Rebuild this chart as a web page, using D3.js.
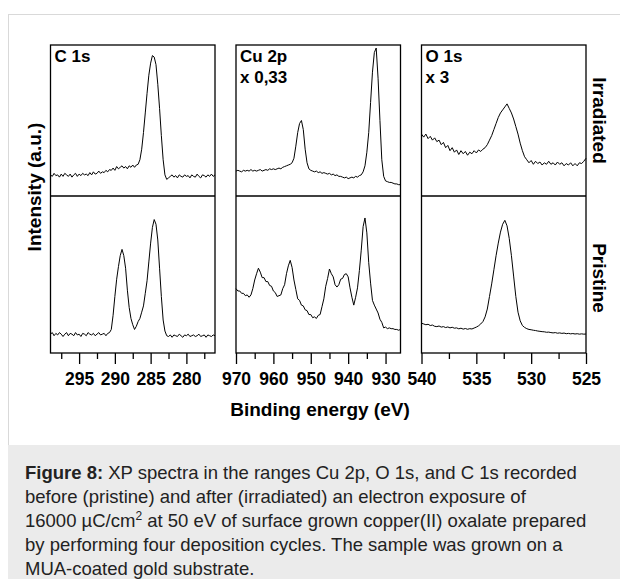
<!DOCTYPE html>
<html>
<head>
<meta charset="utf-8">
<script src="https://cdn.jsdelivr.net/npm/d3@7"></script>
<style>
  body { margin: 0; background: #fff; }
  svg { display: block; }
</style>
</head>
<body>
<svg id="chart" width="620" height="579"></svg>
<script>
// ---------------------------//
//       DATA                 //
// ---------------------------//

// C 1s, 299 -> 276 eV every 0.25 eV
var c1sStart = 299, c1sStep = 0.25
var c1sIrradiated = [14,13,15,13.5,14,12.5,14.5,13,15,14,13,14.5,12.5,14,15,13,14.5,13.5,15,14,
  14.5,13.5,15.5,14,16,14.5,15,16.5,15,16,15.5,17,16,17.5,
  17,18.5,17,19.5,18,19,20,18.5,19.5,18,20,19,20.5,19,20.5,21,
  24,31,42,55,68,80,88,93,92,87,74,58,40,24,14,11,12,
  13,14,12.5,13.5,12,14,13,12.5,14,13,13.5,12,14,13,12.5,14.5,13,12,14,13.5,12.5,14,13,14.5,13,14]
var c1sPristine = [12,13,11,12.5,11.5,13,12,10.5,12,13,11,12.5,12,11,13,11.5,12,10.5,12.5,12,11,13,12,11.5,12.5,11,12,13,11.5,12,12.5,11,12.5,13,
  15,24,36,47,55,62,66,62,54,40,29,22,18,15,17,20,22,26,30,38,46,58,70,80,85,82,72,54,36,21,14,
  11,10.5,11.5,10,11.5,11,10.5,12,11,10,11.5,11,12,10.5,11,11.5,10.5,11,12,10.5,11,11.5,10,11.5,11,10.5,11.5,11]

// Cu 2p, 970 -> 926 eV every 0.5 eV
var cuStart = 970, cuStep = 0.5
var cuIrradiated = [16.5,17,16.5,16,17,16.5,17,16.5,17.5,16.5,17,16.5,17,17.5,16.5,17,17.5,17,18,17.5,18,17.5,18,18.5,18,
  19,19.5,20,20.5,21,22,25,33,42,48,50,44,31,22,18,17,
  16.5,16,16.5,15.5,16,15,15.5,15,14.5,15,14,14.5,13.5,14,13,13,12.5,12,12.5,11.5,12,12.5,12,13,12.5,13.5,
  14,16,20,29,42,62,82,95,98,78,50,24,13,10,
  9.5,9,9,8.5,8,8,7.5,7.5]
var cuPristine = [41,39.5,39.5,38,38,36.5,37,35.5,37,41,
  46.5,50.5,54,51.5,48,48,45.5,45.5,43,42.5,
  39.5,38.5,36,36.5,37,41,43.5,50.5,55.5,59,
  54.5,46.5,40.5,34.5,33.5,30.5,30,27.5,27,24.5,
  24.5,22.5,23,22,24,24.5,29.5,34.5,42.5,47.5,
  53.5,50.5,48.5,43.5,42,43.5,47,47.5,50,50.5,
  48.5,41.5,35.5,30.5,35.5,41.5,52.5,65.5,80.5,86,
  76.5,57.5,44.5,33.5,30.5,28,25.5,21.5,19.5,16,
  16.5,15.5,16,15.5,15.5,15,15,14.5,15]

// O 1s, 540 -> 525 eV every 0.2 eV
var o1sStart = 540, o1sStep = 0.2
var o1sIrradiated = [41,39,41,38,39.5,37,38.5,36,37,34,35.5,32,33.5,30,32,29,30.5,27.5,30,28,
  29.5,27,29,28,30,28.5,30.5,29.5,31,32,34,37,40,44,48,52,55,57,59,61,
  58,55,51,46,41,35,30,26,24,22,23.5,21,23,21.5,22.5,20.5,22,21,23,21,
  22,20.5,22.5,21,22,20,21.5,20.5,22,20,21.5,20,22,21.5,23,25]
var o1sPristine = [19,18.5,18,18.3,17.5,17.8,17,16.8,17.2,16.5,16.8,16.2,16.6,16,16.4,15.8,16,15.4,15.8,15.2,
  15.6,15.1,15.5,15.3,15.9,16.5,17.3,18.5,20,23,28,36,44,53,62,70,77,82,84.5,81,
  73,62,49,36,26,20.5,17.5,16.3,15.5,15,14.8,14.5,14.3,14,13.8,13.6,13.5,13.2,13.3,13,
  12.8,13,12.6,12.8,12.5,12.7,12.3,12.5,12.2,12.4,12.1,12.3,12,12.2,12,12.1]

// ticks
var c1sMajor = [295, 290, 285, 280], c1sMinor = [297.5, 292.5, 287.5, 282.5, 277.5]
var cuMajor = [970, 960, 950, 940, 930], cuMinor = [965, 955, 945, 935]
var o1sMajor = [540, 535, 530, 525], o1sMinor = [537.5, 532.5, 527.5]

var panelTitles = [["C 1s"], ["Cu 2p", "x 0,33"], ["O 1s", "x 3"]]
var rowLabels = ["Irradiated", "Pristine"]

// ---------------------------//
//       LAYOUT               //
// ---------------------------//
var plotTop = 45, plotMid = 196, plotBottom = 353
var panelW = 164.5, firstLeft = 50.5, gap = 185.5
var font = "'Liberation Sans', Arial, sans-serif"

var panels = [
  {domain: [299, 276], start: c1sStart, step: c1sStep, irr: c1sIrradiated, pri: c1sPristine, major: c1sMajor, minor: c1sMinor},
  {domain: [970, 926], start: cuStart, step: cuStep, irr: cuIrradiated, pri: cuPristine, major: cuMajor, minor: cuMinor},
  {domain: [540, 525], start: o1sStart, step: o1sStep, irr: o1sIrradiated, pri: o1sPristine, major: o1sMajor, minor: o1sMinor}
]

var svg = d3.select("#chart")

// outer frame + caption box
svg.append("rect")
  .attr("x", 8.5).attr("y", 14.5)
  .attr("width", 640).attr("height", 600)
  .attr("fill", "#fff").attr("stroke", "#d9d9d9")
svg.append("rect")
  .attr("x", 8).attr("y", 445)
  .attr("width", 612).attr("height", 134)
  .attr("fill", "#ebebeb")

var yTop = d3.scaleLinear().domain([0, 100]).range([plotMid, plotTop])
var yBot = d3.scaleLinear().domain([0, 100]).range([plotBottom, plotMid])

panels.forEach(function(p, k){
  var left = firstLeft + k * gap
  var x = d3.scaleLinear().domain(p.domain).range([left, left + panelW])

  var toPoints = function(vals){
    return vals.map(function(v, i){ return [p.start - i * p.step, v] })
  }

  var lineTop = d3.line().x(function(d){ return x(d[0]) }).y(function(d){ return yTop(d[1]) })
  var lineBot = d3.line().x(function(d){ return x(d[0]) }).y(function(d){ return yBot(d[1]) })

  svg.append("path")
    .datum(toPoints(p.irr))
    .attr("d", lineTop)
    .attr("fill", "none").attr("stroke", "#000").attr("stroke-width", 1)
    .attr("stroke-linejoin", "round")

  svg.append("path")
    .datum(toPoints(p.pri))
    .attr("d", lineBot)
    .attr("fill", "none").attr("stroke", "#000").attr("stroke-width", 1)
    .attr("stroke-linejoin", "round")

  // box + divider
  svg.append("rect")
    .attr("x", left).attr("y", plotTop)
    .attr("width", panelW).attr("height", plotBottom - plotTop)
    .attr("fill", "none").attr("stroke", "#000").attr("stroke-width", 1.3)
  svg.append("line")
    .attr("x1", left).attr("x2", left + panelW)
    .attr("y1", plotMid).attr("y2", plotMid)
    .attr("stroke", "#000").attr("stroke-width", 1.3)

  // minor ticks
  var minorAxis = svg.append("g")
    .attr("transform", "translate(0," + plotBottom + ")")
    .call(d3.axisBottom(x).tickValues(p.minor).tickSize(6).tickFormat(""))
  minorAxis.select(".domain").remove()
  minorAxis.selectAll("line").attr("stroke-width", 1.3)

  // major ticks + labels
  var majorAxis = svg.append("g")
    .attr("transform", "translate(0," + plotBottom + ")")
    .call(d3.axisBottom(x).tickValues(p.major).tickSize(11).tickPadding(9).tickFormat(d3.format("d")))
  majorAxis.select(".domain").remove()
  majorAxis.selectAll("line").attr("stroke-width", 1.3)
  majorAxis.selectAll("text")
    .attr("font-family", font).attr("font-size", 17.5).attr("font-weight", "bold").attr("fill", "#000")

  // panel title
  svg.append("text")
    .attr("font-family", font).attr("font-size", 17).attr("font-weight", "bold")
    .selectAll("tspan")
    .data(panelTitles[k])
    .enter()
    .append("tspan")
      .attr("x", left + 4)
      .attr("y", function(d, i){ return 61.5 + i * 21.5 })
      .text(function(d){ return d })
})

// axis titles
svg.append("text")
  .attr("transform", "translate(40.5," + 187 + ") rotate(-90)")
  .attr("text-anchor", "middle")
  .attr("font-family", font).attr("font-size", 19).attr("font-weight", "bold")
  .text("Intensity (a.u.)")

svg.append("text")
  .attr("x", 320).attr("y", 416)
  .attr("text-anchor", "middle")
  .attr("font-family", font).attr("font-size", 19).attr("font-weight", "bold")
  .text("Binding energy (eV)")

svg.selectAll("rowlabels")
  .data(rowLabels)
  .enter()
  .append("text")
    .attr("transform", function(d, i){
      var cy = i == 0 ? (plotTop + plotMid) / 2 : 278
      return "translate(592.5," + cy + ") rotate(90)"
    })
    .attr("text-anchor", "middle")
    .attr("font-family", font).attr("font-size", 19).attr("font-weight", "bold")
    .text(function(d){ return d })

// ---------------------------//
//       CAPTION              //
// ---------------------------//
var cap = svg.append("text")
  .attr("font-family", font).attr("font-size", 18.5).attr("fill", "#222")
var capX = 25, capY = 478.5, capLH = 24

var l1 = cap.append("tspan").attr("x", capX).attr("y", capY)
l1.append("tspan").attr("font-weight", "bold").text("Figure 8:")
l1.append("tspan").text(" XP spectra in the ranges Cu 2p, O 1s, and C 1s recorded")

cap.append("tspan").attr("x", capX).attr("y", capY + capLH)
  .text("before (pristine) and after (irradiated) an electron exposure of")

var l3 = cap.append("tspan").attr("x", capX).attr("y", capY + 2 * capLH)
l3.append("tspan").text("16000 µC/cm")
l3.append("tspan").attr("font-size", 12).attr("dy", -7).text("2")
l3.append("tspan").attr("dy", 7).text(" at 50 eV of surface grown copper(II) oxalate prepared")

cap.append("tspan").attr("x", capX).attr("y", capY + 3 * capLH)
  .text("by performing four deposition cycles. The sample was grown on a")

cap.append("tspan").attr("x", capX).attr("y", capY + 4 * capLH)
  .text("MUA-coated gold substrate.")
</script>
</body>
</html>
